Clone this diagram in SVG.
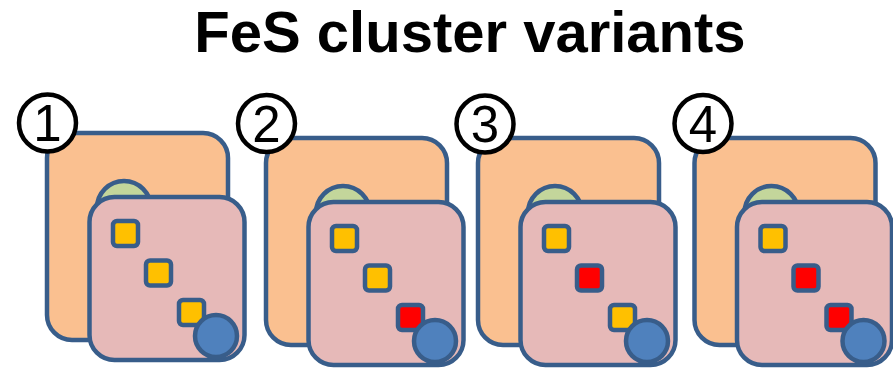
<svg xmlns="http://www.w3.org/2000/svg" width="893" height="368" viewBox="0 0 893 368">
  <style>
    .title { font-family: "Liberation Sans", Arial, sans-serif; font-weight: bold; font-size: 58px; fill: #000; }
    .num { font-family: "Liberation Sans", Arial, sans-serif; font-size: 51px; fill: #000; }
    .badge { fill: #fff; stroke: #000; stroke-width: 4.5; }
    .outer { fill: #FAC090; stroke: #385D8A; stroke-width: 4.5; }
    .cap { fill: #C3D69B; stroke: #385D8A; stroke-width: 4.5; }
    .inner { fill: #E6B9B8; stroke: #385D8A; stroke-width: 4.5; }
    .fe { stroke: #385D8A; stroke-width: 4.5; }
    .y { fill: #FFC000; }
    .r { fill: #FF0000; }
    .core { fill: #4F81BD; stroke: #385D8A; stroke-width: 4.5; }
  </style>
  <defs>
    <!-- shared body of one cluster assembly: outer shell, cap and inner domain -->
    <g id="body">
      <rect class="outer" x="47" y="133" width="181" height="207" rx="25"/>
      <circle class="cap" cx="124" cy="208" r="27"/>
      <rect class="inner" x="89.5" y="197" width="155" height="163" rx="25"/>
    </g>
    <circle id="coreDot" class="core" cx="216" cy="336" r="21"/>
  </defs>

  <text class="title" x="470" y="52" text-anchor="middle">FeS cluster variants</text>

  <g id="variant-1">
    <use href="#body"/>
    <rect class="fe y" x="113" y="221" width="25" height="25" rx="4"/>
    <rect class="fe y" x="146" y="260.5" width="25" height="25" rx="4"/>
    <rect class="fe y" x="179" y="300" width="25" height="25" rx="4"/>
    <use href="#coreDot"/>
    <circle class="badge" cx="47.5" cy="123" r="28.5"/>
    <text class="num" x="47.5" y="141" text-anchor="middle">1</text>
  </g>

  <g id="variant-2">
    <g transform="translate(219,5)">
      <use href="#body"/>
      <rect class="fe y" x="113" y="221" width="25" height="25" rx="4"/>
      <rect class="fe y" x="146" y="260.5" width="25" height="25" rx="4"/>
      <rect class="fe r" x="179" y="300" width="25" height="25" rx="4"/>
      <use href="#coreDot"/>
    </g>
    <circle class="badge" cx="266.5" cy="123.5" r="28.5"/>
    <text class="num" x="266.5" y="141.5" text-anchor="middle">2</text>
  </g>

  <g id="variant-3">
    <g transform="translate(431,5)">
      <use href="#body"/>
      <rect class="fe y" x="113" y="221" width="25" height="25" rx="4"/>
      <rect class="fe r" x="146" y="260.5" width="25" height="25" rx="4"/>
      <rect class="fe y" x="179" y="300" width="25" height="25" rx="4"/>
      <use href="#coreDot"/>
    </g>
    <circle class="badge" cx="485" cy="124" r="28.5"/>
    <text class="num" x="485" y="142" text-anchor="middle">3</text>
  </g>

  <g id="variant-4">
    <g transform="translate(647.5,5)">
      <use href="#body"/>
      <rect class="fe y" x="113" y="221" width="25" height="25" rx="4"/>
      <rect class="fe r" x="146" y="260.5" width="25" height="25" rx="4"/>
      <rect class="fe r" x="179" y="300" width="25" height="25" rx="4"/>
      <use href="#coreDot"/>
    </g>
    <circle class="badge" cx="703" cy="123.5" r="28.5"/>
    <text class="num" x="703" y="141.5" text-anchor="middle">4</text>
  </g>

  <g id="connectors"/>
</svg>
